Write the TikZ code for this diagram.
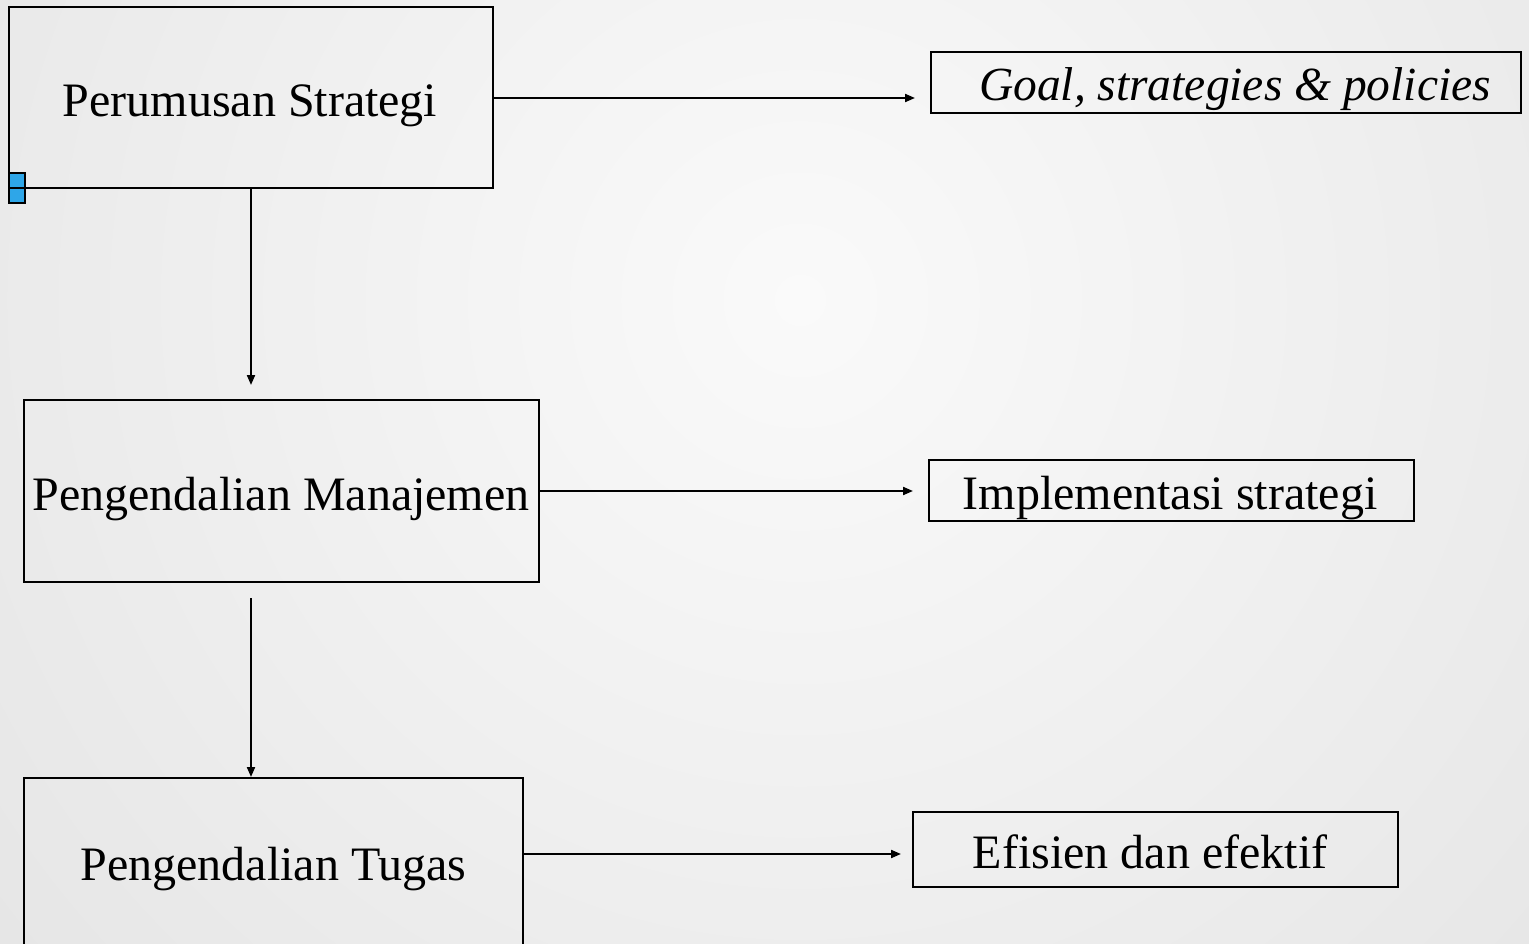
\documentclass[tikz,border=0pt]{standalone}
\usepackage{fontspec}
\setmainfont{Liberation Serif}
\usetikzlibrary{arrows.meta}
\definecolor{bgin}{HTML}{FAFAFA}
\definecolor{bgout}{HTML}{CFCFCF}
\definecolor{handle}{HTML}{2EA6E8}
\tikzset{
  mainbox/.style={draw=black, line width=2pt, inner sep=0pt},
  sidebox/.style={draw=black, line width=2pt, inner sep=0pt},
  label/.style={inner sep=0pt, font=\fontsize{48}{56}\selectfont},
  conn/.style={line width=2pt, -{Triangle[length=10pt,width=8pt]}},
}
\begin{document}
\begin{tikzpicture}[x=1pt,y=-1pt]
\useasboundingbox (0,0) rectangle (1529,944);
\begin{scope}
\clip (0,0) rectangle (1529,944);
\shade[inner color=bgin, outer color=bgout] (800,300) circle (2200);
% boxes
\node[mainbox, minimum width=484pt, minimum height=181pt] (ps) at (251,97.5) {};
\node[label, anchor=base] at (250,117) (pst) {Perumusan Strategi};
\node[mainbox, minimum width=515pt, minimum height=182pt] (pm) at (281.5,491) {};
\node[label, anchor=base] at (281,510) (pmt) {Pengendalian Manajemen};
\node[mainbox, minimum width=499pt, minimum height=180pt] (pt) at (273.5,868) {};
\node[label, anchor=base] at (273.5,880) (ptt) {Pengendalian Tugas};
\node[sidebox, minimum width=590pt, minimum height=61pt] (g) at (1226,82.5) {};
\node[label, anchor=base, font=\fontsize{47.5}{56}\selectfont\itshape] at (1235,101) (gt) {Goal, strategies \& policies};
\node[sidebox, minimum width=485pt, minimum height=61pt] (im) at (1171.5,490.5) {};
\node[label, anchor=base] at (1170,509) (imt) {Implementasi strategi};
\node[sidebox, minimum width=485pt, minimum height=75pt] (ef) at (1155.5,849.5) {};
\node[label, anchor=base] at (1150,868) (eft) {Efisien dan efektif};
\end{scope}
% connectors
\draw[conn, shorten >=15pt] (ps.east |- 0,98) -- (g.west |- 0,98);
\draw[conn, shorten >=15pt] (pm.east |- 0,491) -- (im.west |- 0,491);
\draw[conn, shorten >=11pt] (pt.east |- 0,854) -- (ef.west |- 0,854);
\draw[conn, shorten >=14pt] (ps.south) -- (pm.north -| ps.south);
\draw[conn, shorten <=15pt, shorten >=0pt] (pm.south -| ps.south) -- (pt.north -| ps.south);
% selection handle squares
\draw[line width=2pt, fill=handle] (9,173) rectangle (25,188);
\draw[line width=2pt, fill=handle] (9,188) rectangle (25,203);
\end{tikzpicture}
\end{document}
